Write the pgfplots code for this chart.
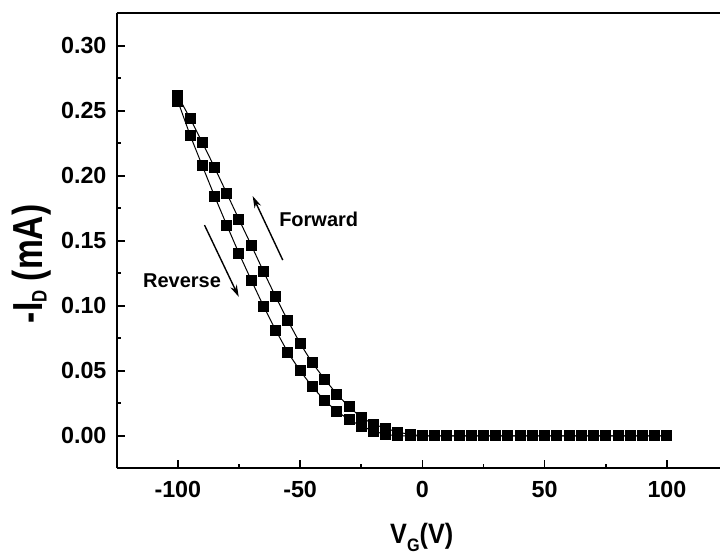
\documentclass[border=0pt]{standalone}
\usepackage{fontspec}
\setmainfont{Liberation Sans}
\usepackage{graphicx}
\usepackage{pgfplots}
\pgfplotsset{compat=1.18}
\usetikzlibrary{arrows.meta}
\begin{document}
\begin{tikzpicture}
\begin{axis}[
  scale only axis,
  width=301.65pt, height=227.5pt,
  xmin=-125, xmax=121.7,
  ymin=-0.025, ymax=0.325,
  axis x line=box, axis y line=left,
  axis line style={line width=1pt,-},
  xtick={-100,-50,0,50,100},
  ytick={0,0.05,0.10,0.15,0.20,0.25,0.30},
  minor x tick num=1, minor y tick num=1,
  xtick pos=left,
  tick align=inside,
  major tick length=4.3pt, minor tick length=2.1pt,
  every tick/.style={black, line width=0.8pt},
  /pgf/number format/assume math mode=true,
  tick label style={font=\fontsize{11.65}{12}\selectfont\bfseries},
  yticklabel style={/pgf/number format/.cd, fixed, fixed zerofill, precision=2, /tikz/.cd, xshift=-1.6pt},
  xticklabel style={yshift=-2.8pt},
  scaled y ticks=false,
]
\addplot[black, line width=0.5pt, mark=square*, mark size=2.5pt, mark options={solid, fill=black}] coordinates {
(-100,0.2615) (-95,0.2442) (-90,0.2257) (-85,0.2065) (-80,0.1865) (-75,0.1665)
(-70,0.1467) (-65,0.1265) (-60,0.1069) (-55,0.0885) (-50,0.0711) (-45,0.0560)
(-40,0.0436) (-35,0.0321) (-30,0.0223) (-25,0.0141) (-20,0.0090) (-15,0.0057)
(-10,0.0028) (-5,0.0010) (0,0) (5,0) (10,0) (15,0) (20,0) (25,0) (30,0) (35,0)
(40,0) (45,0) (50,0) (55,0) (60,0) (65,0) (70,0) (75,0) (80,0) (85,0) (90,0) (95,0) (100,0)
};
\addplot[black, line width=0.5pt, mark=square*, mark size=2.5pt, mark options={solid, fill=black}] coordinates {
(-100,0.2575) (-95,0.2313) (-90,0.2077) (-85,0.1844) (-80,0.1621) (-75,0.1403)
(-70,0.1198) (-65,0.0998) (-60,0.0813) (-55,0.0641) (-50,0.0500) (-45,0.0377)
(-40,0.0272) (-35,0.0188) (-30,0.0125) (-25,0.0075) (-20,0.0036) (-15,0.0010)
(-10,0) (-5,0) (0,0) (5,0) (10,0) (15,0) (20,0) (25,0) (30,0) (35,0)
(40,0) (45,0) (50,0) (55,0) (60,0) (65,0) (70,0) (75,0) (80,0) (85,0) (90,0) (95,0) (100,0)
};
\draw[line width=0.7pt, -{Stealth[length=6pt,width=3.5pt]}] (axis cs:-57.1,0.1352) -- (axis cs:-69.4,0.1844);
\draw[line width=0.7pt, -{Stealth[length=6pt,width=3.5pt]}] (axis cs:-89.1,0.1621) -- (axis cs:-75.1,0.1069);
\node[anchor=base, font=\fontsize{10}{12}\selectfont\bfseries] at (axis cs:-42.4,0.1608) {Forward};
\node[anchor=base, font=\fontsize{10}{12}\selectfont\bfseries] at (axis cs:-98.3,0.1142) {Reverse};
\pgfplotsinvokeforeach{-100,-75,-50,-25,0,25,50,75,100}{
  \draw[line width=0.6pt] (axis cs:#1,0.325) -- ++(0,-1.3pt);
}
\end{axis}
\node[rotate=90, anchor=base, font=\fontsize{21}{24}\selectfont\bfseries] at ([shift={(-37pt,102.2pt)}]current axis.south west) {\scalebox{0.8}[1]{-I\raisebox{-2pt}{\fontsize{10.5}{11}\selectfont D} (mA)}};
\node[anchor=base, font=\fontsize{14}{16}\selectfont\bfseries] at ([shift={(152.5pt,-37.8pt)}]current axis.south west) {\scalebox{0.9}[1]{V\raisebox{-3.6pt}{\fontsize{9}{9}\selectfont G}(V)}};
\pgfresetboundingbox
\path ([shift={(-58.35pt,-42.85pt)}]current axis.south west) rectangle ([shift={(0pt,6.65pt)}]current axis.north east);
\end{tikzpicture}
\end{document}
